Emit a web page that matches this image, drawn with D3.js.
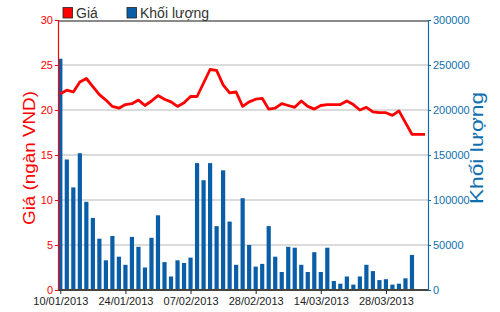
<!DOCTYPE html>
<html>
<head>
<meta charset="utf-8">
<script src="https://cdn.jsdelivr.net/npm/d3@7"></script>
<style>
  body { margin: 0; background: #fff; }
  svg { display: block; font-family: 'Liberation Sans Narrow', 'Liberation Sans', Arial, sans-serif; }
</style>
</head>
<body>
<div id="chart"></div>
<script>
// trading days shown on the x axis
const dates = [
  '10/01/2013', '11/01/2013', '14/01/2013', '15/01/2013', '16/01/2013', '17/01/2013', '18/01/2013', '21/01/2013', '22/01/2013', '23/01/2013',
  '24/01/2013', '25/01/2013', '28/01/2013', '29/01/2013', '30/01/2013', '31/01/2013', '01/02/2013', '04/02/2013', '05/02/2013', '06/02/2013',
  '07/02/2013', '08/02/2013', '18/02/2013', '19/02/2013', '20/02/2013', '21/02/2013', '22/02/2013', '25/02/2013', '26/02/2013', '27/02/2013',
  '28/02/2013', '01/03/2013', '04/03/2013', '05/03/2013', '06/03/2013', '07/03/2013', '08/03/2013', '11/03/2013', '12/03/2013', '13/03/2013',
  '14/03/2013', '15/03/2013', '18/03/2013', '19/03/2013', '20/03/2013', '21/03/2013', '22/03/2013', '25/03/2013', '26/03/2013', '27/03/2013',
  '28/03/2013', '29/03/2013', '01/04/2013', '02/04/2013', '03/04/2013', '04/04/2013', '05/04/2013'
];
const tickDates = ['10/01/2013', '24/01/2013', '07/02/2013', '28/02/2013', '14/03/2013', '28/03/2013'];

// price, thousand VND
const prices = [
  21.8, 22.2, 22.0, 23.1, 23.5, 22.6, 21.7, 21.1, 20.4, 20.2,
  20.6, 20.7, 21.1, 20.5, 21.0, 21.6, 21.2, 20.9, 20.4, 20.8,
  21.5, 21.5, 23.0, 24.5, 24.4, 22.8, 21.9, 22.0, 20.4, 20.9,
  21.2, 21.3, 20.1, 20.2, 20.7, 20.5, 20.3, 21.0, 20.4, 20.1,
  20.5, 20.6, 20.6, 20.6, 21.0, 20.6, 20.0, 20.3, 19.8, 19.7,
  19.7, 19.4, 19.9, 18.6, 17.3, 17.3, 17.3
];

// volume
const volumes = [
  257000, 145000, 114000, 152000, 98000, 80000, 57000, 33000, 60000, 37000,
  28000, 59000, 48000, 25000, 58000, 83000, 31000, 15000, 33000, 30000,
  36000, 141000, 122000, 141000, 71000, 133000, 76000, 28000, 102000, 50000,
  26000, 29000, 71000, 37000, 20000, 48000, 47000, 28000, 20000, 42000,
  20000, 47000, 10000, 7000, 15000, 6000, 15000, 28000, 21000, 11000,
  12000, 6000, 7000, 13000, 39000, 0, 0
];

const priceTicks = [0, 5, 10, 15, 20, 25, 30];
const volumeTicks = [0, 50000, 100000, 150000, 200000, 250000, 300000];

const width = 500;
const height = 312;
const plot = { left: 58, right: 428, top: 21, bottom: 290 };

const red = '#ff0000';
const blue = '#0f6fae';
const barBlue = '#0a5ea8';

const svg = d3.select('#chart').append('svg')
  .attr('width', width)
  .attr('height', height);

const x = d3.scalePoint()
  .domain(dates)
  .range([plot.left + 2.3, plot.right - 3]);

const yPrice = d3.scaleLinear().domain([0, 30]).range([plot.bottom, plot.top - 1]);
const yVol = d3.scaleLinear().domain([0, 300000]).range([plot.bottom, plot.top - 1]);

// gridlines
svg.append('g')
  .selectAll('line')
  .data(priceTicks.filter(d => d > 0 && d < 30))
  .enter()
  .append('line')
  .attr('x1', plot.left)
  .attr('x2', plot.right)
  .attr('y1', d => yPrice(d))
  .attr('y2', d => yPrice(d))
  .attr('stroke', '#cfcfcf')
  .attr('stroke-width', 1.5);

// volume bars
const barW = 4.2;
svg.append('g')
  .selectAll('rect')
  .data(volumes)
  .enter()
  .append('rect')
  .attr('x', (d, i) => x(dates[i]) - barW / 2)
  .attr('y', d => yVol(d))
  .attr('width', barW)
  .attr('height', d => plot.bottom - yVol(d))
  .attr('fill', barBlue);

// price line
const line = d3.line()
  .x((d, i) => x(dates[i]))
  .y(d => yPrice(d));

svg.append('path')
  .datum(prices)
  .attr('d', line)
  .attr('fill', 'none')
  .attr('stroke', red)
  .attr('stroke-width', 2.8)
  .attr('stroke-linejoin', 'round');

// top border
svg.append('line')
  .attr('x1', plot.left).attr('x2', plot.right)
  .attr('y1', plot.top).attr('y2', plot.top)
  .attr('stroke', '#8a8a8a').attr('stroke-width', 2);

// left axis
const leftAxis = svg.append('g')
  .attr('transform', `translate(${plot.left},0)`)
  .call(d3.axisLeft(yPrice).tickValues(priceTicks).tickSize(3).tickPadding(2));
leftAxis.select('.domain').attr('stroke', red).attr('stroke-width', 1.2);
leftAxis.selectAll('.tick line').attr('stroke', red);
leftAxis.selectAll('.tick text').attr('fill', red).style('font-size', '11px');

// right axis
const rightAxis = svg.append('g')
  .attr('transform', `translate(${plot.right},0)`)
  .call(d3.axisRight(yVol).tickValues(volumeTicks).tickSize(3).tickPadding(2).tickFormat(d3.format('d')));
rightAxis.select('.domain').attr('stroke', blue).attr('stroke-width', 1.2);
rightAxis.selectAll('.tick line').attr('stroke', blue);
rightAxis.selectAll('.tick text').attr('fill', blue).style('font-size', '11px');

// bottom axis
const bottomAxis = svg.append('g')
  .attr('transform', `translate(0,${plot.bottom})`)
  .call(d3.axisBottom(x).tickValues(tickDates).tickSize(4).tickPadding(3).tickSizeOuter(0));
bottomAxis.select('.domain').attr('stroke', '#444').attr('stroke-width', 2)
  .attr('d', `M${plot.left},0H${plot.right}`);
bottomAxis.selectAll('.tick line').attr('stroke', '#222');
bottomAxis.selectAll('.tick text').attr('fill', '#222').style('font-size', '11px');

// axis titles
svg.append('text')
  .attr('transform', `translate(35,158) rotate(-90)`)
  .attr('text-anchor', 'middle')
  .attr('textLength', 134)
  .attr('lengthAdjust', 'spacingAndGlyphs')
  .style('font-family', 'Liberation Sans, Arial, sans-serif')
  .style('font-size', '17px')
  .attr('fill', red)
  .text('Giá (ngàn VND)');

svg.append('text')
  .attr('transform', `translate(483,148) rotate(-90)`)
  .attr('text-anchor', 'middle')
  .attr('textLength', 112)
  .attr('lengthAdjust', 'spacingAndGlyphs')
  .style('font-family', 'Liberation Sans, Arial, sans-serif')
  .style('font-size', '18px')
  .attr('fill', blue)
  .text('Khối lượng');

// legend
const legendItems = [
  { label: 'Giá', color: red, x: 63 },
  { label: 'Khối lượng', color: barBlue, x: 127 }
];
const legend = svg.append('g').selectAll('g')
  .data(legendItems)
  .enter()
  .append('g')
  .attr('transform', d => `translate(${d.x},7.5)`);
legend.append('rect')
  .attr('width', 9.5).attr('height', 10.5)
  .attr('fill', d => d.color)
  .attr('stroke', '#222').attr('stroke-width', 0.8);
legend.append('text')
  .attr('x', 13).attr('y', 10.5)
  .style('font-family', 'Liberation Sans, Arial, sans-serif')
  .style('font-size', '14px')
  .attr('fill', '#333')
  .text(d => d.label);
</script>
</body>
</html>
